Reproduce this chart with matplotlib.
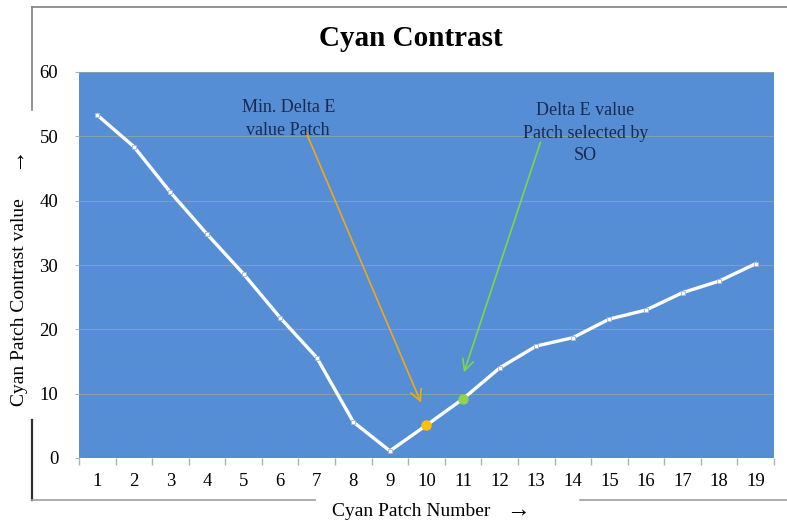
import matplotlib
matplotlib.use("Agg")
import matplotlib.pyplot as plt
from matplotlib.lines import Line2D

patches = list(range(1, 20))
contrast = [53.3, 48.4, 41.3, 34.8, 28.6, 21.8, 15.6, 5.6, 1.1, 5.1, 9.2, 14.0, 17.4, 18.7, 21.6, 23.0, 25.7, 27.5, 30.2]
min_idx = 9    # patch 10
so_idx = 10    # patch 11
yticks = [0, 10, 20, 30, 40, 50, 60]

plt.rcParams['font.family'] = ['Liberation Serif', 'DejaVu Serif']

fig = plt.figure(figsize=(7.87, 5.24), dpi=100)
ax = fig.add_axes([79/787, 1-458/524, (774-79)/787, (458-72)/524])
ax.set_facecolor('#558ed5')

xs = list(range(len(patches)))
ax.plot(xs, contrast, color='white', lw=2.4, marker='s', ms=3.5,
        mfc='white', mec='#9fb6d6', mew=0.6, zorder=3)
ax.plot([xs[min_idx]], [contrast[min_idx]], 'o', color='#ffc000', ms=6.5, zorder=4)
ax.plot([xs[so_idx]], [contrast[so_idx]], 'o', color='#92d050', ms=6.5, zorder=4)

ax.set_xlim(-0.5, len(patches) - 0.5)
ax.set_ylim(0, 60)
ax.set_yticks(yticks)
ax.set_yticklabels([str(v) for v in yticks], fontsize=13.5)
ax.set_xticks(xs)
ax.set_xticklabels([str(p) for p in patches], fontsize=13.5)
ax.tick_params(axis='x', which='major', length=0, pad=11)
ax.set_xticks([x - 0.5 for x in xs] + [xs[-1] + 0.5], minor=True)
ax.tick_params(axis='x', which='minor', length=5, color='#b0b0b0', width=1)
ax.tick_params(axis='y', length=3, color='#b0b0b0', pad=12)
for v in yticks[1:]:
    ax.axhline(v, color='#86a0a8', lw=0.8, zorder=1)
for s in ax.spines.values():
    s.set_visible(False)

# annotations
ax.annotate('', xy=(8.88, 8.2), xytext=(5.68, 51.0),
            arrowprops=dict(arrowstyle='->', color='#f0a818', lw=1.2, mutation_scale=20))
ax.annotate('', xy=(10.0, 12.9), xytext=(12.14, 49.5),
            arrowprops=dict(arrowstyle='->', color='#7dd64a', lw=1.2, mutation_scale=20))
ax.text(5.22, 52.7, 'Min. Delta E\nvalue Patch', ha='center', va='center',
        fontsize=13, color='#1a2a50', linespacing=1.45)
ax.text(13.34, 50.5, 'Delta E value\nPatch selected by\nSO', ha='center', va='center',
        fontsize=13, color='#1a2a50', linespacing=1.45)

# title and axis labels
fig.text(411/787, 1-38/524, 'Cyan Contrast', ha='center', va='center',
         fontsize=21, fontweight='bold')
fig.text(20/787, 1-302/524, 'Cyan Patch Contrast value', ha='center', va='center',
         rotation=90, fontsize=14)
fig.text(14/787, 1-157/524, '\u2192', ha='center', va='center',
         rotation=90, fontsize=17)
fig.text(411/787, 1-511/524, 'Cyan Patch Number', ha='center', va='center',
         fontsize=14)
fig.text(518/787, 1-510/524, '\u2192', ha='center', va='center', fontsize=17)

# partial outer frame
def fl(x0, y0, x1, y1, c='#808080', w=1.2):
    fig.add_artist(Line2D([x0/787, x1/787], [1-y0/524, 1-y1/524], color=c, lw=w))
fl(32, 7, 787, 7)
fl(32, 7, 32, 110)
fl(32, 420, 32, 500, c='#303030', w=1.6)
fl(32, 500, 315, 500, c='#a0a0a0')
fl(580, 500, 787, 500, c='#a0a0a0')

fig.savefig('out.png', dpi=100)
